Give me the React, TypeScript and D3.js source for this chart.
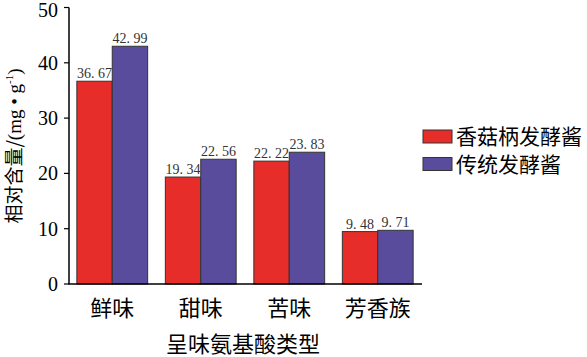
import React from "react";
import * as d3 from "d3";

const categories = ["鲜味", "甜味", "苦味", "芳香族"];
const seriesNames = ["香菇柄发酵酱", "传统发酵酱"];
const shiitakeValues = [36.67, 19.34, 22.22, 9.48];
const traditionalValues = [42.99, 22.56, 23.83, 9.71];
const yTicks = [0, 10, 20, 30, 40, 50];
const colors = ["#E62D29", "#5A4C9D"];

const W = 587;
const H = 357;
const CJK = "'Noto Sans CJK SC', sans-serif";
const SERIF = "'Liberation Serif', 'DejaVu Serif', serif";

export default function App() {
  const x = d3.scaleBand<string>().domain(categories).range([68, 422]).paddingInner(0.2).paddingOuter(0.1);
  const sub = d3.scaleBand<number>().domain([0, 1]).range([0, x.bandwidth()]);
  const y = d3.scaleLinear().domain([0, 50]).range([284, 7.5]);
  const series = [shiitakeValues, traditionalValues];
  const fmt = (v: number) => v.toFixed(2).replace(".", ". ");

  return (
    <svg width={W} height={H} style={{ position: "absolute", left: 0, top: 0, background: "#fff" }}>
      {/* bars */}
      {categories.map((c, i) =>
        series.map((vals, s) => {
          const bx = (x(c) ?? 0) + (sub(s) ?? 0);
          const by = y(vals[i]);
          return (
            <g key={c + s}>
              <rect x={bx} y={by} width={sub.bandwidth()} height={y(0) - by} fill={colors[s]} stroke="#333" strokeWidth={1} />
              <text x={bx + sub.bandwidth() / 2} y={by - 3} textAnchor="middle" fontFamily={SERIF} fontSize={14} fill="#333">
                {fmt(vals[i])}
              </text>
            </g>
          );
        })
      )}
      {/* axes */}
      <line x1={69} x2={69} y1={y(50)} y2={y(0)} stroke="#000" strokeWidth={1.5} />
      <line x1={68.25} x2={422} y1={y(0)} y2={y(0)} stroke="#000" strokeWidth={1.5} />
      {yTicks.map((t) => (
        <g key={t}>
          <line x1={64} x2={69} y1={y(t)} y2={y(t)} stroke="#000" strokeWidth={1.2} />
          <text x={58} y={Math.max(y(t), 9.5)} dy="0.35em" textAnchor="end" fontFamily={SERIF} fontSize={20} fill="#000">
            {t}
          </text>
        </g>
      ))}
      {categories.map((c) => (
        <text key={c} x={(x(c) ?? 0) + x.bandwidth() / 2} y={316} textAnchor="middle" fontFamily={CJK} fontSize={22} fill="#000">
          {c}
        </text>
      ))}
      <text x={243} y={352} textAnchor="middle" fontFamily={CJK} fontSize={22} fill="#000">
        呈味氨基酸类型
      </text>
      <text transform={`translate(21,146) rotate(-90)`} textAnchor="middle" fontFamily={CJK} fontSize={19} fill="#000">
        相对含量/
        <tspan fontFamily={SERIF}>(mg • g</tspan>
        <tspan fontFamily={SERIF} fontSize={11} dy={-8}>-1</tspan>
        <tspan fontFamily={SERIF} dy={8}>)</tspan>
      </text>
      {/* legend */}
      {seriesNames.map((n, s) => (
        <g key={n}>
          <rect x={423} y={130 + s * 27.5} width={29} height={13} fill={colors[s]} stroke="#333" strokeWidth={1} />
          <text x={456} y={137 + s * 27.5} dy="0.35em" fontFamily={CJK} fontSize={21} fill="#000">
            {n}
          </text>
        </g>
      ))}
    </svg>
  );
}
